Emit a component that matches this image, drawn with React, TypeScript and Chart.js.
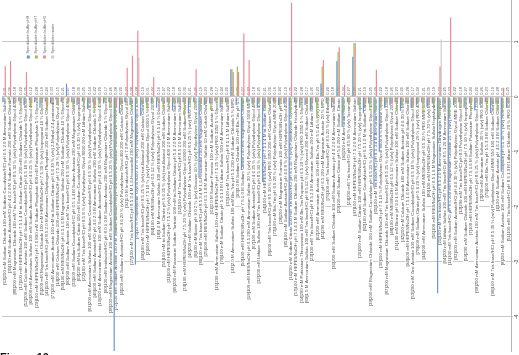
import React, { useEffect, useRef } from "react";
import { Chart, registerables } from "chart.js";
Chart.register(...registerables);

const categories = [
  "[63]200 mM Sodium Chloride 100 mM Sodium Cacodylate/HCl pH 6.5 2.0 M Ammonium Sulfate",
  "[35]100 mM Sodium Acetate/HCl pH 4.6 2.0 M Sodium Formate 200 mM Sodium Chloride",
  "[88]200 mM Magnesium Chloride 100 mM Tris base/HCl pH 8.5 30 % (w/v) Polyethylene Glycol 4000",
  "[17]100 mM HEPES/NaOH pH 7.5 1.4 M tri-Sodium Citrate 200 mM Sodium Chloride 5 % Glycerol",
  "[52]200 mM Calcium Acetate 100 mM Sodium Cacodylate/HCl pH 6.5 18 % (w/v) Polyethylene Glycol 8000",
  "[66]200 mM Ammonium Sulfate 100 mM Sodium Acetate/HCl pH 4.6 25 % (w/v) Polyethylene Glycol 4000",
  "[29]100 mM HEPES/NaOH pH 7.5 800 mM Sodium Phosphate 800 mM Potassium Phosphate 5 % Glycerol",
  "[5]200 mM Magnesium Chloride 100 mM HEPES/NaOH pH 7.5 30 % (v/v) Isopropanol 10 % Glycerol",
  "[41]100 mM Tris base/HCl pH 8.5 2.0 M Ammonium Dihydrogen Phosphate 200 mM Sodium Chloride",
  "[77]200 mM Ammonium Acetate 100 mM tri-Sodium Citrate pH 5.6 30 % (v/v) 2-Methyl-2,4-pentanediol",
  "[14]200 mM Calcium Chloride 100 mM HEPES/NaOH pH 7.5 28 % (v/v) Polyethylene Glycol 400",
  "[58]100 mM MES/NaOH pH 6.5 1.6 M Magnesium Sulfate 200 mM Sodium Chloride 10 % Glycerol",
  "[90]200 mM Sodium Acetate 100 mM Tris base/HCl pH 8.5 30 % (w/v) Polyethylene Glycol 4000",
  "[33]100 mM Sodium Cacodylate/HCl pH 6.5 1.4 M Sodium Acetate 200 mM Magnesium Chloride",
  "[69]200 mM tri-Sodium Citrate 100 mM Sodium Cacodylate/HCl pH 6.5 30 % (v/v) Isopropanol",
  "[22]100 mM Tris base/HCl pH 8.5 8 % (w/v) Polyethylene Glycol 8000 200 mM Lithium Sulfate",
  "[81]200 mM Ammonium Sulfate 100 mM Sodium Cacodylate/HCl pH 6.5 30 % (w/v) Polyethylene Glycol 8000",
  "[46]100 mM Sodium Acetate/HCl pH 4.6 2.0 M Ammonium Sulfate 200 mM Sodium Chloride 5 % MPD",
  "[10]200 mM Ammonium Acetate 100 mM Sodium Acetate/HCl pH 4.6 30 % (w/v) Polyethylene Glycol 4000",
  "[60]100 mM Imidazole/HCl pH 8.0 1.0 M Sodium Acetate 200 mM Magnesium Chloride 5 % Glycerol",
  "[38]200 mM Magnesium Acetate 100 mM Sodium Cacodylate/HCl pH 6.5 20 % (w/v) Polyethylene Glycol 8000",
  "[72]200 mM Sodium Acetate 100 mM Sodium Acetate/HCl pH 4.6 200 mM Calcium Chloride 10 % PEG 4000",
  "[4]100 mM Sodium Acetate/HCl pH 4.6 20 % (v/v) Polyethylene Glycol 400 200 mM Calcium Chloride",
  "[92]1.0 M Imidazole/HCl pH 7.0 Polyethylene Glycol 400",
  "[27]100 mM Tris base/HCl pH 8.5 3.4 M 1,6-Hexanediol 200 mM Magnesium Chloride",
  "[70]10 % Polyethylene Glycol 8000 10 % (w/v) Polyethylene Glycol 1000",
  "[49]100 mM Tris base/HCl pH 8.5 25 % (v/v) tert-Butanol 200 mM Calcium Chloride",
  "[2]100 mM HEPES/NaOH pH 7.5 10 % (w/v) Polyethylene Glycol 6000 5 % MPD",
  "[84]100 mM MES/NaOH pH 6.5 12 % (w/v) Polyethylene Glycol 20000",
  "[18]1.6 M Ammonium Sulfate 100 mM MES/NaOH pH 6.5 10 % Dioxane",
  "[55]100 mM tri-Sodium Citrate pH 5.6 35 % (v/v) tert-Butanol 200 mM Sodium Chloride",
  "[31]100 mM HEPES/NaOH pH 7.5 2 % (v/v) Polyethylene Glycol 400 2.0 M Ammonium Sulfate",
  "[95]200 mM Potassium Sodium Tartrate 100 mM tri-Sodium Citrate pH 5.6 2.0 M Ammonium Sulfate",
  "[12]100 mM Tris base/HCl pH 8.5 2.0 M Ammonium Sulfate",
  "[74]100 mM HEPES/NaOH pH 7.5 20 % (w/v) Polyethylene Glycol 10000 200 mM Sodium Chloride",
  "[40]200 mM Sodium Chloride 100 mM Tris base/HCl pH 8.5 25 % (w/v) PEG 3350",
  "[6]100 mM Bicine pH 9.0 2 % (v/v) Dioxane 10 % (w/v) Polyethylene Glycol 20000",
  "[86]100 mM Tris base/HCl pH 8.5 3.4 M 1,6-Hexanediol 200 mM Magnesium Chloride",
  "[25]100 mM MES/NaOH pH 6.5 1.8 M Ammonium Sulfate 10 mM Cobalt Chloride",
  "[61]2.0 M Sodium Formate 100 mM Sodium Acetate pH 4.6",
  "[15]200 mM Ammonium Sulfate 100 mM HEPES/NaOH pH 7.5 25 % (w/v) PEG 3350 5 % Glycerol",
  "[79]100 mM Sodium Citrate pH 5.6 1.0 M Lithium Sulfate 500 mM Ammonium Sulfate",
  "[37]100 mM Tris base/HCl pH 8.5 1.5 M Lithium Sulfate",
  "[43]2.0 M Ammonium Sulfate 100 mM Bis-Tris pH 5.5 200 mM Sodium Chloride 5 % MPD",
  "[93]3.0 M Sodium Chloride 100 mM Bis-Tris pH 6.5",
  "[50]100 mM HEPES/NaOH pH 7.5 1.0 M Sodium Citrate 200 mM Magnesium Chloride",
  "[19]100 mM MES/NaOH pH 6.5 200 mM Ammonium Sulfate 30 % (w/v) Polyethylene Glycol 5000 MME",
  "[67]100 mM Sodium Acetate/HCl pH 4.6 25 % (w/v) Polyethylene Glycol 4000",
  "[32]200 mM Lithium Sulfate 100 mM Tris base/HCl pH 8.5 30 % (w/v) Polyethylene Glycol 4000",
  "[54]100 mM HEPES/NaOH pH 7.5 1.4 M tri-Sodium Citrate",
  "[9]100 mM Tris base/HCl pH 8.5 30 % (w/v) PEG 3350 200 mM Calcium Chloride",
  "[73]100 mM Bis-Tris pH 6.5 28 % (w/v) Polyethylene Glycol MME 2000",
  "[28]200 mM Magnesium Formate 100 mM HEPES/NaOH pH 7.5",
  "[85]100 mM Sodium Acetate/HCl pH 4.6 8 % (w/v) Polyethylene Glycol 4000",
  "[16]200 mM Sodium Citrate 100 mM Tris base/HCl pH 8.5 30 % (v/v) Polyethylene Glycol 400",
  "[57]100 mM HEPES/NaOH pH 7.5 4.3 M Sodium Chloride 200 mM Magnesium Chloride Hexahydrate",
  "[34]200 mM Potassium Thiocyanate 100 mM Bis-Tris Propane pH 6.5 20 % (w/v) PEG 3350 5 % Glycerol",
  "[89]1.5 M Ammonium Sulfate 100 mM Tris base/HCl pH 8.5 12 % (v/v) Glycerol 200 mM Sodium Chloride",
  "[23]100 mM Tris base/HCl pH 8.5 2.0 M Ammonium Sulfate 200 mM Lithium Sulfate",
  "[62]200 mM Ammonium Acetate 100 mM Bis-Tris pH 5.5 45 % (v/v) MPD",
  "[45]200 mM MES/NaOH pH 6.5 200 mM Magnesium Acetate 20 % MPD",
  "[76]100 mM Tris base/HCl pH 8.5 20 % (v/v) Ethanol",
  "[36]200 mM Sodium Chloride 100 mM Sodium Acetate pH 4.6 2.0 M Ammonium Sulfate",
  "[20]100 mM Sodium Citrate pH 5.6 200 mM Sodium Citrate",
  "[91]200 mM Ammonium Sulfate",
  "[24]200 mM Tris base/HCl pH 8.5 60 % (v/v) Tacsimate",
  "[47]100 mM HEPES/NaOH pH 7.5 2.0 M Ammonium Sulfate",
  "[26]200 mM Sodium Citrate 100 mM HEPES/NaOH pH 7.5 20 % (v/v) Isopropanol",
  "[82]100 mM Sodium Cacodylate/HCl pH 6.5 1.0 M tri-Sodium Citrate",
  "[39]200 mM Magnesium Chloride 100 mM Sodium Cacodylate pH 6.5 20 % (w/v) Polyethylene Glycol 1000",
  "[65]100 mM Tris base/HCl pH 8.5 3.4 M Ammonium Sulfate",
  "[30]100 mM HEPES/NaOH pH 7.5 10 % Polyethylene Glycol 8000 8 % Ethylene Glycol",
  "[87]200 mM Magnesium Chloride 100 mM Tris base/HCl pH 8.5 25 % (w/v) Polyethylene Glycol 3350",
  "[48]100 mM MES/NaOH pH 6.5 12 % (w/v) Polyethylene Glycol 20000",
  "[71]100 mM Bicine pH 9.0 1.6 M Ammonium Sulfate 100 mM Sodium Chloride",
  "[42]200 mM Calcium Chloride 100 mM Sodium Acetate pH 4.6 30 % MPD",
  "[94]100 mM HEPES/NaOH pH 7.5 1.6 M Ammonium Sulfate 100 mM Sodium Chloride",
  "[53]200 mM Zinc Acetate 100 mM Sodium Cacodylate/HCl pH 6.5 18 % (w/v) Polyethylene Glycol 8000",
  "[78]100 mM Sodium Citrate pH 5.6 20 % (v/v) Isopropanol 20 % (w/v) PEG 4000",
  "[44]200 mM Ammonium Sulfate 100 mM MES/NaOH pH 6.5 30 % PEG MME 5000",
  "[80]100 mM HEPES/NaOH pH 7.5 70 % (v/v) MPD",
  "[56]100 mM MES/NaOH pH 6.5 1.6 M Magnesium Sulfate Heptahydrate",
  "[21]100 mM Tris base/HCl pH 8.5 2.0 M Ammonium Dihydrogen Phosphate",
  "[64]200 mM Lithium Sulfate 100 mM Tris base/HCl pH 8.5 1.26 M Ammonium Sulfate",
  "[11]100 mM Tris base/HCl pH 8.5 200 mM Magnesium Chloride 25 % (w/v) PEG 3350",
  "[83]100 mM Sodium Acetate/HCl pH 4.6 30 % (v/v) Polyethylene Glycol MME 2000",
  "[13]200 mM Tris base/HCl pH 8.5 Polyethylene Glycol 8000",
  "[59]200 mM Sodium Chloride 100 mM HEPES/NaOH pH 7.5 10 % (v/v) Isopropanol",
  "[7]100 mM HEPES/NaOH pH 7.5 1.6 M Sodium Potassium Phosphate",
  "[68]200 mM Ammonium Acetate 100 mM Tris base/HCl pH 8.5 25 % (w/v) Polyethylene Glycol 3350",
  "[3]200 mM Ammonium Sulfate 30 % (w/v) PEG 8000",
  "[75]100 mM Bis-Tris pH 5.5 3.0 M Sodium Chloride",
  "[96]100 mM Tris base/HCl pH 8.5 30 % (w/v) Polyethylene Glycol MME 550 100 mM Sodium Chloride",
  "[1]100 mM Sodium Acetate pH 4.6 2.0 M Sodium Chloride",
  "[8]200 mM Sodium Acetate 100 mM Sodium Cacodylate pH 6.5 30 % (w/v) PEG 8000",
  "[51]100 mM Tris base/HCl pH 8.5 1.0 M Lithium Chloride 20 % PEG 6000",
];

const valueLabels = [
  "0.31", "0.26", "0.18", "0.22", "0.35", "0.12", "0.28", "0.19", "0.24", "0.33", "0.15", "0.21",
  "0.27", "0.18", "0.30", "0.25", "0.14", "0.22", "0.29", "0.17", "0.26", "0.38", "0.20", "0.23",
  "0.28", "0.28", "0.19", "0.31", "0.24", "0.16", "0.27", "0.22", "0.18", "0.25", "0.30", "0.21",
  "0.26", "0.19", "0.23", "0.28", "0.17", "0.24", "0.20", "0.33", "0.29", "0.27", "0.22", "0.18",
  "0.25", "0.21", "0.30", "0.16", "0.24", "0.19", "0.35", "0.22", "0.28", "0.17", "0.26", "0.23",
  "0.31", "0.20", "0.18", "0.34", "0.24", "0.27", "0.36", "0.21", "0.19", "0.25", "0.29", "0.22",
  "0.18", "0.26", "0.23", "0.20", "0.28", "0.17", "0.24", "0.21", "0.30", "0.19", "0.33", "0.25",
  "0.32", "0.22", "0.18", "0.27", "0.24", "0.20", "0.26", "0.23", "0.19", "0.28", "0.21", "0.25",
];

const seriesNames = [
  "Sper dilution buffer pH8",
  "Sper dilution buffer pH7",
  "Sper dilution buffer pH5",
  "Sper dilution water",
];

const bufferPH8 = [
  -0.10, -0.05, -0.12, -0.08, -0.15, -0.06, -0.10, -0.20, -0.08, -0.12, -0.05, -0.10,
  0.24, -0.10, -0.15, -0.08, -0.22, -0.10, -0.06, -0.12, -0.10, -4.64, -0.30, -0.10,
  -0.15, -3.05, -0.35, -0.10, -0.12, -0.20, -0.08, -0.10, -0.25, -0.12, -0.10, -0.30,
  -0.10, -1.47, -0.15, -0.12, -0.08, -0.20, -0.10, 0.50, -0.15, -1.33, -0.10, -0.12,
  -0.20, -1.55, -0.10, -0.08, -0.15, -0.12, -2.36, -0.10, -0.20, -0.15, -0.25, -0.10,
  0.24, -0.12, -0.20, 0.65, -0.55, -0.10, 0.73, -0.15, -0.30, -0.12, -1.65, -1.00,
  -0.20, -0.15, -0.10, -0.25, -0.12, -0.20, -0.15, -0.10, -0.18, -0.12, -3.57, -0.20,
  -2.09, -0.15, -0.10, -0.20, -0.12, -0.25, -0.15, -0.10, -0.30, -0.12, -1.36, -0.20,
];

const bufferPH7 = [
  -0.08, -0.12, -0.05, -0.15, -0.10, -0.20, -0.08, -0.12, -0.25, -0.10, -0.15, -0.08,
  -0.12, -0.20, -0.10, -0.15, -0.08, -0.30, -0.12, -0.10, -0.18, -2.50, -0.15, -0.10,
  -0.20, -0.12, -0.15, -0.25, -0.10, -0.08, -0.20, -0.15, -0.12, -0.10, -0.35, -0.12,
  -0.15, -0.20, -0.10, -0.25, -0.12, -0.08, -0.15, 0.50, 0.55, -0.20, -0.10, -0.15,
  -0.12, -0.25, -0.15, -0.10, -0.20, -0.08, -0.30, -0.12, -0.15, -0.10, -0.20, -0.40,
  0.55, -0.15, -0.10, 0.82, -0.30, -0.12, 0.98, -0.20, -0.15, -0.25, -0.30, -0.20,
  -0.12, -0.10, -0.25, -0.15, -0.08, -0.20, -0.12, -0.30, -0.10, -0.15, -0.40, -0.12,
  -0.35, -0.10, -0.20, -0.15, -0.25, -0.10, -0.12, -0.20, -0.15, -0.25, -0.30, -0.10,
];

const bufferPH5 = [
  0.56, 0.65, -0.10, -0.08, 0.45, -0.12, -0.06, -0.10, -0.15, -0.08, -0.12, -0.05,
  -0.10, -0.08, -0.12, -0.06, -0.10, -0.15, -0.08, -0.05, -0.10, -0.20, -0.12, 0.53,
  0.75, 1.20, -0.10, -0.08, 0.36, -0.12, -0.06, -0.10, -0.08, -0.15, -0.10, -0.05,
  0.50, -0.12, -0.08, -0.10, -0.06, -0.12, -0.08, 0.45, 0.45, 1.15, 0.67, -0.10,
  -0.08, -0.15, -0.06, -0.10, -0.12, -0.08, 1.71, -0.10, -0.06, -0.12, -0.08, -0.10,
  0.67, -0.08, -0.12, 0.90, 0.22, -0.10, 0.98, -0.08, -0.12, -0.06, 0.49, -0.10,
  -0.08, -0.12, -0.06, -0.10, -0.08, -0.15, -0.10, -0.06, -0.12, -0.08, 0.55, -0.10,
  1.44, -0.08, -0.12, -0.06, -0.10, -0.08, -0.12, -0.06, -0.10, -0.08, 0.16, -0.10,
];

const dilutionWater = [
  0.02, -0.03, 0.01, -0.02, 0.03, -0.01, 0.02, -0.04, 0.01, -0.02, 0.02, -0.03,
  0.01, -0.02, 0.03, -0.01, 0.02, -0.03, 0.01, -0.02, 0.02, -0.05, 0.01, -0.02,
  0.03, 0.72, -0.02, 0.01, -0.03, 0.02, -0.01, 0.02, -0.03, 0.01, -0.02, 0.03,
  -0.01, 0.02, -0.03, 0.01, -0.02, 0.02, -0.01, 0.03, -0.02, 0.01, -0.03, 0.02,
  -0.01, 0.02, -0.03, 0.01, -0.02, 0.02, -0.04, 0.01, -0.02, 0.03, -0.01, 0.02,
  -0.03, 0.01, -0.02, 0.02, -0.01, 0.03, -0.02, 0.01, -0.03, 0.02, -0.01, 0.02,
  -0.03, 0.01, -0.02, 0.02, -0.01, 0.03, -0.02, 0.01, -0.03, 0.02, 1.04, -0.01,
  0.02, -0.03, 0.01, -0.02, 0.02, -0.01, 0.03, -0.02, 0.01, -0.03, 0.02, -0.01,
];

const yTickValues = [1, 0, -1, -2, -3, -4];
const seriesColors = ["#6a97d2", "#a3bd5c", "#ec8a95", "#cdcdcd"];

export default function App() {
  const ref = useRef<HTMLCanvasElement>(null);

  useEffect(() => {
    document.body.style.margin = "0";
    const seriesData = [bufferPH8, bufferPH7, bufferPH5, dilutionWater];

    const overlay = {
      id: "overlay",
      beforeDatasetsDraw(chart: any) {
        const ctx = chart.ctx;
        const xs = chart.scales.x;
        const ys = chart.scales.y;
        const y0 = ys.getPixelForValue(0);
        ctx.save();
        ctx.textBaseline = "middle";
        ctx.font = '4.4px "Liberation Sans", Arial, sans-serif';
        categories.forEach((lab, i) => {
          const px = xs.getPixelForValue(i);
          const w = ctx.measureText(lab).width;
          ctx.save();
          ctx.translate(px, y0 + 1.5);
          ctx.rotate(-Math.PI / 2);
          ctx.fillStyle = "#ffffff";
          ctx.fillRect(-w - 1, -2.6, w + 1, 5.2);
          ctx.fillStyle = "#555555";
          ctx.textAlign = "right";
          ctx.fillText(lab, 0, 0);
          ctx.restore();
        });
        ctx.font = '4px "Liberation Sans", Arial, sans-serif';
        valueLabels.forEach((lab, i) => {
          const px = xs.getPixelForValue(i);
          const w = ctx.measureText(lab).width;
          ctx.save();
          ctx.translate(px, y0 - 1.5);
          ctx.rotate(-Math.PI / 2);
          ctx.fillStyle = "#ffffff";
          ctx.fillRect(0, -2.4, w + 1, 4.8);
          ctx.fillStyle = "#666666";
          ctx.textAlign = "left";
          ctx.fillText(lab, 0.5, 0);
          ctx.restore();
        });
        ctx.restore();
      },
      afterDraw(chart: any) {
        const ctx = chart.ctx;
        const ys = chart.scales.y;
        ctx.save();
        ctx.textBaseline = "middle";
        ctx.font = '5px "Liberation Sans", Arial, sans-serif';
        ctx.fillStyle = "#444444";
        yTickValues.forEach((v) => {
          const py = ys.getPixelForValue(v);
          ctx.save();
          ctx.translate(ys.left + 5.5, py);
          ctx.rotate(-Math.PI / 2);
          ctx.textAlign = "center";
          ctx.fillText(String(v), 0, 0);
          ctx.restore();
        });
        ctx.font = '3.6px "Liberation Sans", Arial, sans-serif';
        seriesNames.forEach((name, k) => {
          const cx = 28.3 + k * 8.1;
          ctx.fillStyle = seriesColors[k];
          ctx.fillRect(cx - 1.5, 55.5, 3, 3);
          ctx.save();
          ctx.translate(cx, 53.5);
          ctx.rotate(-Math.PI / 2);
          ctx.fillStyle = "#555555";
          ctx.textAlign = "left";
          ctx.fillText(name, 0, 0);
          ctx.restore();
        });
        ctx.restore();
      },
    };

    const chart = new Chart(ref.current as HTMLCanvasElement, {
      type: "bar",
      data: {
        labels: categories,
        datasets: seriesNames.map((name, k) => ({
          label: name,
          data: seriesData[k],
          backgroundColor: seriesColors[k],
          borderWidth: 0,
          barPercentage: 1,
          categoryPercentage: 0.9,
        })),
      },
      options: {
        responsive: false,
        animation: false,
        layout: { padding: { left: 2, right: 0, top: 0, bottom: 4 } },
        plugins: { legend: { display: false }, tooltip: { enabled: false } },
        scales: {
          x: { display: false },
          y: {
            position: "right",
            min: -4.62,
            max: 1.76,
            ticks: { display: false, stepSize: 1 },
            afterFit: (scale: any) => {
              scale.width = 8;
            },
            grid: {
              color: (c: any) =>
                Number.isInteger(c.tick && c.tick.value) ? "#c9c9c9" : "rgba(0,0,0,0)",
              tickLength: 2,
            },
            border: { color: "#b5b5b5" },
          },
        },
      },
      plugins: [overlay],
    });
    return () => chart.destroy();
  }, []);

  return (
    <div style={{ position: "relative", width: 519, height: 355, overflow: "hidden", background: "#fff" }}>
      <canvas ref={ref} width={519} height={355} />
      <div
        style={{
          position: "absolute",
          left: 0,
          top: 351,
          font: 'bold 11px "Liberation Sans", Arial, sans-serif',
          color: "#111",
          whiteSpace: "nowrap",
        }}
      >
        Figure 10
      </div>
    </div>
  );
}
